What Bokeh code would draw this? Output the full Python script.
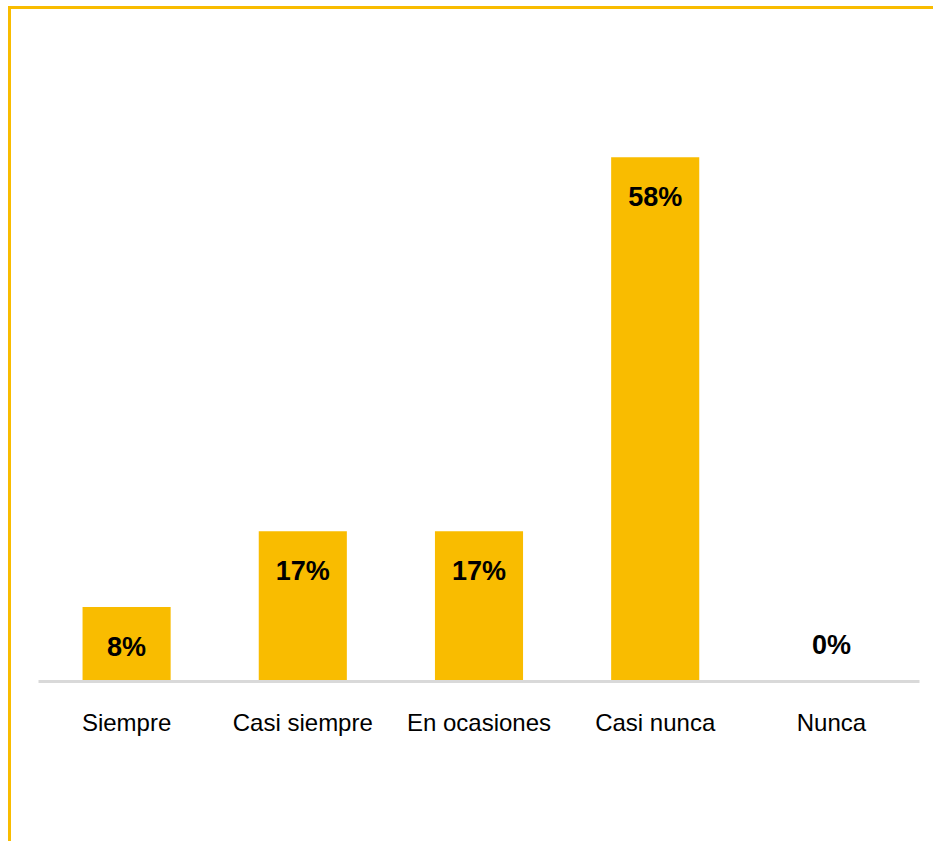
from bokeh.plotting import figure
from bokeh.models import Range1d, FactorRange, ColumnDataSource
from bokeh.core.properties import value
from bokeh.embed import file_html
from bokeh.resources import INLINE

categories = ["Siempre", "Casi siempre", "En ocasiones", "Casi nunca", "Nunca"]
percentages = [8.3, 16.7, 16.7, 58.3, 0.0]
labels = ["8%", "17%", "17%", "58%", "0%"]

BAR = "#F9BC00"

offsets = [40 if v > 0 else -37 for v in percentages]
src = ColumnDataSource(dict(cat=categories, val=percentages, lab=labels, off=offsets))

p = figure(
    width=925, height=835,
    x_range=FactorRange(*categories, range_padding=0),
    y_range=Range1d(0, 73.3),
    output_backend="svg", toolbar_location=None,
    y_axis_location=None,
    min_border_left=27, min_border_right=17, min_border_top=13, min_border_bottom=163,
)
p.styles = {"border-top": f"3px solid {BAR}", "border-left": f"3px solid {BAR}",
            "margin-left": "8px", "margin-top": "6px"}
p.outline_line_color = None
p.xgrid.visible = False
p.ygrid.visible = False

p.vbar(x="cat", top="val", width=0.5, source=src, fill_color=BAR, line_color=None)

p.text(x="cat", y="val", text="lab", y_offset="off", source=src,
       text_align="center", text_baseline="middle",
       text_font=value("Liberation Sans"), text_font_style="bold",
       text_font_size="27px", text_color="#000000")

ax = p.xaxis[0]
ax.axis_line_color = "#D9D9D9"
ax.axis_line_width = 3
ax.major_tick_line_color = None
ax.minor_tick_line_color = None
ax.major_label_standoff = 21
ax.major_label_text_font = "Liberation Sans"
ax.major_label_text_font_size = "24px"
ax.major_label_text_color = "#000000"

open("out.html", "w").write(file_html(p, INLINE))
